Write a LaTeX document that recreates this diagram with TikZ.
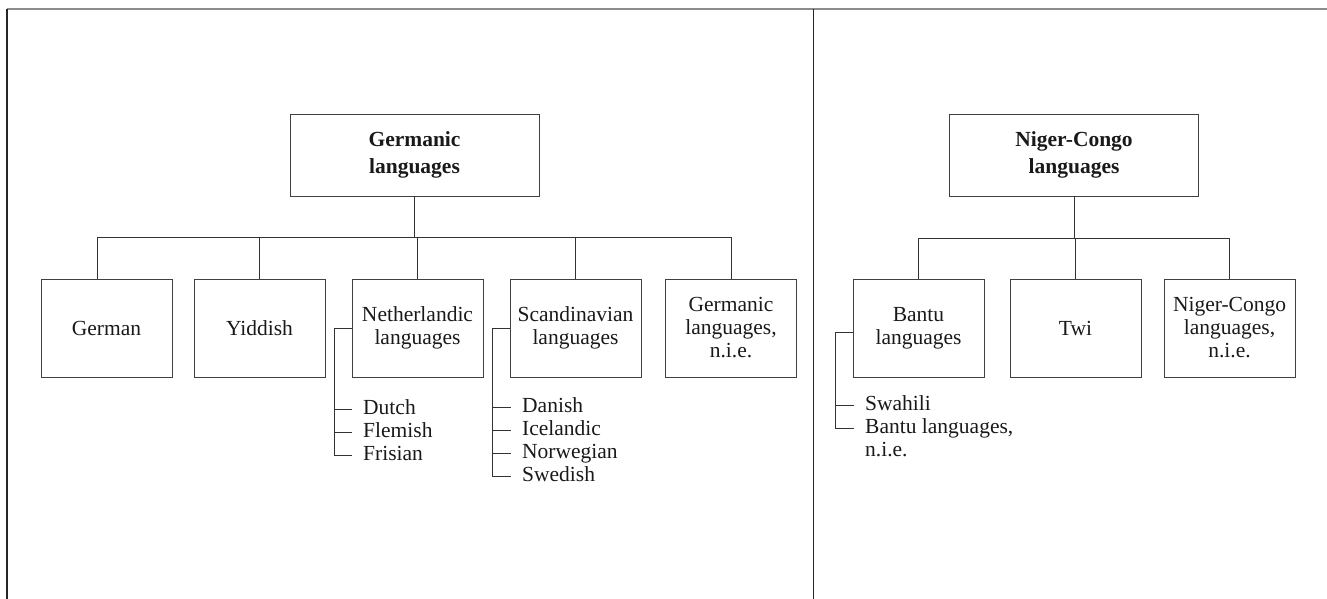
\documentclass[tikz,border=0pt]{standalone}
\usepackage{fontspec}
\setmainfont{Liberation Serif}
\begin{document}
\begin{tikzpicture}[x=1pt,y=-1pt,
  txt/.style={font=\fontsize{21.5}{23}\selectfont, text=black!90},
  box/.style={txt, draw=black!75, line width=0.9pt, align=center, inner sep=0pt},
  topbox/.style={box, minimum width=249, minimum height=82, font=\fontsize{21.5}{27}\selectfont\bfseries},
  kidbox/.style={box, minimum width=131, minimum height=98},
  item/.style={txt, anchor=west, inner sep=0pt, text height=10pt, text depth=0pt},
  link/.style={draw=black!80, line width=0.9pt},
  frame/.style={line width=1.3pt}
]
\useasboundingbox (0,0) rectangle (1327,599);
% frame
\draw[frame, draw=black!45, line width=2pt] (7,9) -- (1327,9);
\draw[frame, draw=black!85] (7,9) -- (7,599);
\draw[draw=black!85, line width=1pt] (813,9) -- (813,599);

% Germanic tree
\node[topbox] (germ) at (414.5,155) {Germanic\\languages};
\node[kidbox] (german) at (106.5,328) {German};
\node[kidbox] (yid) at (259.5,328) {Yiddish};
\node[kidbox] (neth) at (417.5,328) {Netherlandic\\languages};
\node[kidbox] (scan) at (575.5,328) {Scandinavian\\languages};
\node[kidbox] (gnie) at (731,328) {Germanic\\languages,\\n.i.e.};
\coordinate (gbusL) at (97,237);
\coordinate (gbusR) at (731,237);
\draw[link] (germ.south) -- (germ.south |- gbusL);
\draw[link] (gbusL) -- (gbusR);
\draw[link] ([xshift=-9.5]german.north) -- ([xshift=-9.5]german.north |- gbusL);
\draw[link] (yid.north) -- (yid.north |- gbusL);
\draw[link] (neth.north) -- (neth.north |- gbusL);
\draw[link] (scan.north) -- (scan.north |- gbusL);
\draw[link] (gnie.north) -- (gnie.north |- gbusL);

% Netherlandic list
\node[item] (dutch) at (363,409) {Dutch};
\node[item] (flem) at (363,432) {Flemish};
\node[item] (fris) at (363,455) {Frisian};
\draw[link] (neth.west) -- ++(-17,0) |- ([xshift=-11]fris.west);
\draw[link] ([xshift=-28]dutch.west) -- ([xshift=-11]dutch.west);
\draw[link] ([xshift=-28]flem.west) -- ([xshift=-11]flem.west);

% Scandinavian list
\node[item] (dan) at (522,407) {Danish};
\node[item] (ice) at (522,430) {Icelandic};
\node[item] (nor) at (522,453) {Norwegian};
\node[item] (swe) at (522,476) {Swedish};
\draw[link] (scan.west) -- ++(-17,0) |- ([xshift=-11]swe.west);
\draw[link] ([xshift=-29]dan.west) -- ([xshift=-11]dan.west);
\draw[link] ([xshift=-29]ice.west) -- ([xshift=-11]ice.west);
\draw[link] ([xshift=-29]nor.west) -- ([xshift=-11]nor.west);

% Niger-Congo tree
\node[topbox] (nc) at (1074,155) {Niger-Congo\\languages};
\node[kidbox] (bantu) at (918.5,328) {Bantu\\languages};
\node[kidbox] (twi) at (1075.5,328) {Twi};
\node[kidbox] (ncnie) at (1229.5,328) {Niger-Congo\\languages,\\n.i.e.};
\coordinate (nbusL) at (918.5,238);
\coordinate (nbusR) at (1230,238);
\draw[link] (nc.south) -- (nc.south |- nbusL);
\draw[link] (nbusL) -- (nbusR);
\draw[link] (bantu.north) -- (bantu.north |- nbusL);
\draw[link] (twi.north) -- (twi.north |- nbusL);
\draw[link] (ncnie.north) -- (ncnie.north |- nbusL);

% Bantu list
\node[item] (swa) at (865,405) {Swahili};
\node[item] (bnie) at (865,428) {Bantu languages,};
\node[item] (bnie2) at (865,451) {n.i.e.};
\draw[link] ([yshift=-4]bantu.west) -- ++(-17,0) |- ([xshift=-11]bnie.west);
\draw[link] ([xshift=-29]swa.west) -- ([xshift=-11]swa.west);
\end{tikzpicture}
\end{document}
